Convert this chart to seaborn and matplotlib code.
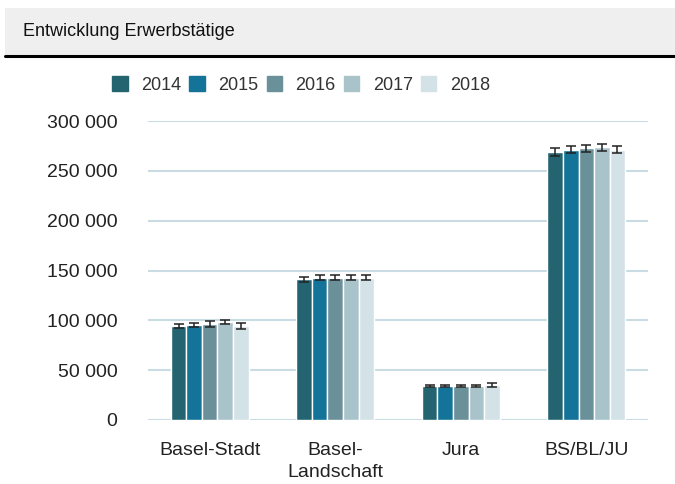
import pandas as pd
import seaborn as sns
import matplotlib.pyplot as plt
from matplotlib.patches import Rectangle
from matplotlib.lines import Line2D
from matplotlib.ticker import FuncFormatter

# Data
regions = ["Basel-Stadt", "Basel-\nLandschaft", "Jura", "BS/BL/JU"]
years = ["2014", "2015", "2016", "2017", "2018"]
values = {
    "2014": [94500, 141000, 34400, 269000],
    "2015": [94900, 142800, 34500, 271000],
    "2016": [96300, 142800, 34500, 272600],
    "2017": [97900, 142800, 34500, 273500],
    "2018": [94200, 142800, 35000, 271000],
}
errors = {
    "2014": [2000, 2500, 1000, 4000],
    "2015": [2000, 2500, 1000, 3500],
    "2016": [2800, 2500, 1000, 3500],
    "2017": [2000, 2500, 1000, 3500],
    "2018": [3000, 2500, 1800, 3500],
}
colors = ["#246470", "#137399", "#6a9099", "#a9c3cb", "#d3e2e6"]

rows = []
for y in years:
    for r, v in zip(regions, values[y]):
        rows.append({"region": r, "year": y, "value": v})
df = pd.DataFrame(rows)

sns.set_style("white")
plt.rcParams["font.family"] = ["Liberation Sans", "DejaVu Sans"]

fig = plt.figure(figsize=(6.75, 4.84), dpi=100)
ax = fig.add_axes([148 / 675, (484 - 420) / 484, 500 / 675, 299 / 484])

sns.barplot(data=df, x="region", y="value", hue="year", palette=colors,
            width=0.62, errorbar=None, saturation=1, ax=ax, zorder=2)

# error bars on the drawn bars
for cont, y in zip(ax.containers, years):
    xs = [b.get_x() + b.get_width() / 2 for b in cont]
    hs = [b.get_height() for b in cont]
    ax.errorbar(xs, hs, yerr=errors[y], fmt="none", ecolor="#222222",
                elinewidth=1.1, capsize=3.5, capthick=1.1, zorder=3, clip_on=False)

ax.set_ylim(0, 300000)
ax.set_yticks(range(0, 300001, 50000))
ax.yaxis.set_major_formatter(FuncFormatter(lambda v, p: f"{int(v):,}".replace(",", " ")))
ax.grid(axis="y", color="#c9dbe3", linewidth=1.5, zorder=0)
ax.set_axisbelow(True)
for s in ax.spines.values():
    s.set_visible(False)
ax.tick_params(axis="y", length=0, pad=22, labelsize=14, labelcolor="#222222")
ax.tick_params(axis="x", length=0, pad=16, labelsize=14, labelcolor="#222222")
for lbl in ax.get_xticklabels():
    lbl.set_verticalalignment("top")
    lbl.set_multialignment("center")
    lbl.set_linespacing(1.35)
ax.set_xlabel("")
ax.set_ylabel("")

# legend at top
ax.get_legend().remove()
handles = [Rectangle((0, 0), 1, 1, color=c) for c in colors]
fig.legend(handles, years, loc="center", bbox_to_anchor=(0.446, 0.824), ncol=5,
           frameon=False, fontsize=13, handlelength=0.85, handleheight=0.85,
           handletextpad=0.75, columnspacing=0.45, labelcolor="#333333")

# title band
fig.patches.append(Rectangle((5 / 675, (484 - 56) / 484), 670 / 675, 48 / 484,
                             transform=fig.transFigure, facecolor="#efefef",
                             edgecolor="none", zorder=0))
fig.lines.append(Line2D([5 / 675, 1], [(484 - 56) / 484] * 2, transform=fig.transFigure,
                        color="black", linewidth=2.2))
fig.text(23 / 675, (484 - 31) / 484, "Entwicklung Erwerbstätige", fontsize=13,
         va="center", ha="left", color="#111111")

fig.savefig("out.png", dpi=100)
